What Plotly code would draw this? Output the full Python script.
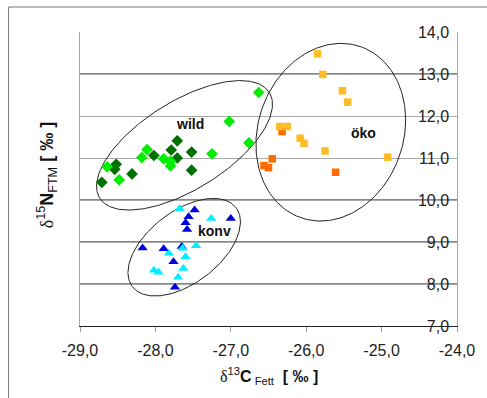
import numpy as np
import plotly.graph_objects as go

# ---------------- data ----------------
wild_dark_x = [-28.71, -28.52, -28.54, -28.31, -28.02, -27.79, -27.71, -27.71, -27.52, -27.52]
wild_dark_y = [10.42, 10.85, 10.73, 10.62, 11.06, 11.19, 11.41, 11.00, 11.14, 10.71]

wild_light_x = [-28.64, -28.48, -28.18, -28.11, -27.89, -27.80, -27.80, -27.25, -27.02, -26.76, -26.63]
wild_light_y = [10.79, 10.48, 11.01, 11.20, 10.98, 10.92, 10.81, 11.10, 11.87, 11.36, 12.56]

konv_dark_x = [-27.48, -27.56, -27.60, -27.58, -27.00, -28.17, -27.89, -27.65, -27.76, -27.74]
konv_dark_y = [9.76, 9.60, 9.46, 9.30, 9.56, 8.86, 8.84, 8.89, 8.53, 7.92]

konv_light_x = [-27.68, -27.26, -27.46, -27.64, -27.82, -27.60, -27.63, -28.02, -27.96, -27.70]
konv_light_y = [9.79, 9.56, 8.91, 8.85, 8.73, 8.65, 8.37, 8.33, 8.28, 8.16]

oeko_dark_x = [-26.32, -26.45, -26.56, -26.50, -25.61]
oeko_dark_y = [11.63, 10.98, 10.82, 10.77, 10.66]

oeko_light_x = [-25.85, -25.78, -25.52, -25.45, -26.35, -26.25, -26.08, -26.03, -25.75, -24.92]
oeko_light_y = [13.48, 12.99, 12.60, 12.33, 11.75, 11.75, 11.47, 11.35, 11.17, 11.02]

# group ellipses: centre (data), semi-axes (px), tilt (deg)
ell_names = ["wild", "konv", "öko"]
ell_cx = [-27.614, -27.618, -25.674]
ell_cy = [11.302, 8.876, 11.614]
ell_a = [100.5, 65.5, 90.7]
ell_b = [44.2, 36.1, 73.2]
ell_ang = [31.6, 36.9, 70.0]

# group labels
lab_text = ["wild", "öko", "konv"]
lab_x = [-27.54, -25.24, -27.21]
lab_y = [11.81, 11.59, 9.27]

x_ticks = [-29, -28, -27, -26, -25, -24]
y_ticks = [7, 8, 9, 10, 11, 12, 13, 14]
dark_grid = [8, 9, 10, 13]

x_range = [-29, -24]
y_range = [7, 14]

# ---------------- layout geometry ----------------
W, H = 487, 398
ML, MR, MT, MB = 80, 27, 32, 72
pw, ph = W - ML - MR, H - MT - MB
ppx = pw / (x_range[1] - x_range[0])
ppy = ph / (y_range[1] - y_range[0])

fmt = lambda v: f"{v:.1f}".replace(".", ",")
tickfont = dict(family="Liberation Sans, Arial, sans-serif", size=16, color="#222")

fig = go.Figure()

# ellipses
t = np.linspace(0, 2 * np.pi, 241)
for cx, cy, a, b, ang in zip(ell_cx, ell_cy, ell_a, ell_b, ell_ang):
    th = np.deg2rad(ang)
    dx = a * np.cos(t) * np.cos(th) - b * np.sin(t) * np.sin(th)
    dy = a * np.cos(t) * np.sin(th) + b * np.sin(t) * np.cos(th)
    fig.add_trace(go.Scatter(x=cx + dx / ppx, y=cy + dy / ppy, mode="lines",
                             line=dict(color="#222", width=1), hoverinfo="skip"))

def pts(x, y, sym, col, size):
    fig.add_trace(go.Scatter(x=x, y=y, mode="markers",
                             marker=dict(symbol=sym, color=col, size=size, line=dict(width=0))))

pts(wild_dark_x, wild_dark_y, "diamond", "#007000", 9)
pts(wild_light_x, wild_light_y, "diamond", "#00ee00", 9)
pts(konv_dark_x, konv_dark_y, "triangle-up", "#0000d8", 9)
pts(konv_light_x, konv_light_y, "triangle-up", "#00eeff", 9)
pts(oeko_dark_x, oeko_dark_y, "square", "#ff6a00", 7.5)
pts(oeko_light_x, oeko_light_y, "square", "#ffbb22", 7.5)

# dummy trace for the label axis
fig.add_trace(go.Scatter(x=[x_range[0]], y=[y_range[0]], yaxis="y2", mode="markers",
                         marker=dict(opacity=0), hoverinfo="skip"))

shapes = [dict(type="line", xref="paper", x0=0, x1=1, yref="y", y0=v, y1=v,
               line=dict(color="#111", width=1), layer="below") for v in dark_grid]
# outer frame
shapes.append(dict(type="rect", xref="paper", yref="paper",
                   x0=(8 - ML) / pw, x1=1.5, y0=-1.0, y1=(H - MB - 7) / ph,
                   line=dict(color="#777", width=1), layer="below"))

annotations = [dict(x=x, y=y, xref="x", yref="y", text=f"<b>{s}</b>", showarrow=False,
                    font=dict(family="Liberation Sans, Arial, sans-serif", size=14, color="#111"))
               for s, x, y in zip(lab_text, lab_x, lab_y)]
annotations.append(dict(xref="paper", yref="paper", x=(271 - ML) / pw, y=(H - MB - 376) / ph,
                        showarrow=False, xanchor="center", yanchor="middle",
                        text="<span style='font-family:Liberation Serif'>δ</span><sup>13</sup><b>C</b><sub> Fett</sub>  <b>[ ‰ ]</b>",
                        font=dict(family="Liberation Sans, Arial, sans-serif", size=16, color="#111")))
annotations.append(dict(xref="paper", yref="paper", x=(46 - ML) / pw, y=(H - MB - 175) / ph,
                        showarrow=False, xanchor="center", yanchor="middle", textangle=-90,
                        text="<span style='font-family:Liberation Serif'>δ</span><sup>15</sup><b>N</b><sub>FTM</sub> <b>[ ‰ ]</b>",
                        font=dict(family="Liberation Sans, Arial, sans-serif", size=18, color="#111")))

fig.update_layout(
    width=W, height=H, margin=dict(l=ML, r=MR, t=MT, b=MB),
    plot_bgcolor="white", paper_bgcolor="white", showlegend=False,
    shapes=shapes, annotations=annotations,
    xaxis=dict(range=x_range, tickvals=x_ticks, ticktext=[fmt(v) for v in x_ticks],
               ticks="outside", ticklen=5, tickcolor="#999", showgrid=False, zeroline=False,
               showline=True, linecolor="#222", tickfont=tickfont, ticklabelstandoff=5),
    yaxis=dict(range=y_range, tickvals=y_ticks, showticklabels=False, ticks="",
               showgrid=True, gridcolor="#a8a8a8", zeroline=False,
               showline=True, mirror=True, linecolor="#a8a8a8"),
    yaxis2=dict(range=y_range, overlaying="y", side="left", anchor="free",
                position=(452 - ML) / pw, tickvals=y_ticks,
                ticktext=[fmt(v) for v in y_ticks], ticks="", showgrid=False,
                zeroline=False, showline=False, tickfont=tickfont),
)

fig.write_html("out.html")
